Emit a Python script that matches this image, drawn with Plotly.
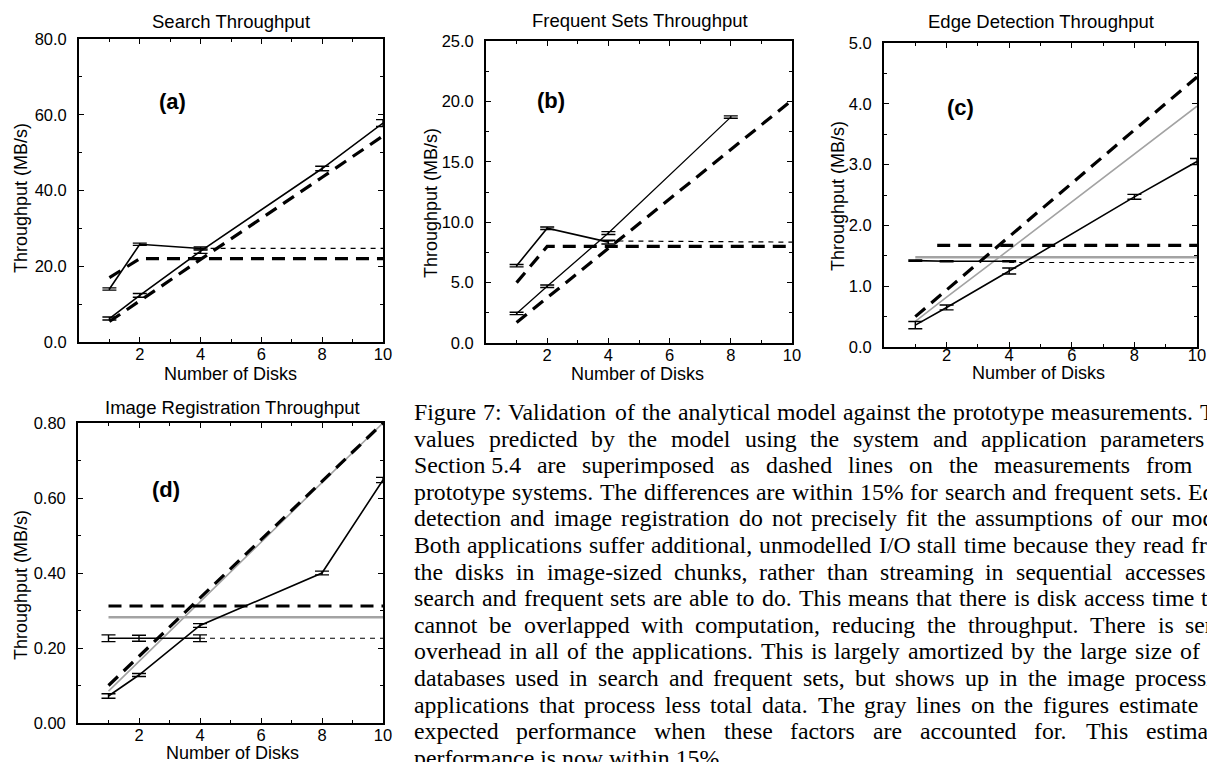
import plotly.graph_objects as go

W, H = 1207, 762

# ---------------- data ----------------
disks = [1, 2, 4, 8, 10]
x_small = [1, 2, 4]
x_b8 = [1, 2, 4, 8]
x_thin = [4, 10]

# (a) Search
a_meas1 = [6.2, 12.3, 24.0, 45.8, 57.8]
a_err1 = [0.4, 0.5, 0.6, 0.6, 0.9]
a_meas2 = [14.0, 25.8, 24.7]
a_err2 = [0.3, 0.3, 0.4]
a_model_lin = [5.4, 10.9, 21.8, 43.5, 54.4]
a_model_flat = [17.0, 22.0, 22.0, 22.0, 22.0]
a_model_thin = [24.7, 24.7]

# (b) Frequent sets
b_meas1 = [2.45, 4.7, 9.1, 18.7]
b_err1 = [0.1, 0.1, 0.12, 0.1]
b_meas2 = [6.4, 9.5, 8.35]
b_err2 = [0.1, 0.1, 0.15]
b_model_lin = [1.7, 3.75, 7.8, 16.0, 20.1]
b_model_flat = [5.0, 8.0, 8.0, 8.0, 8.0]
b_model_thin = [8.45, 8.35]

# (c) Edge detection
c_meas1 = [0.36, 0.65, 1.25, 2.47, 3.05]
c_err1 = [0.06, 0.04, 0.05, 0.04, 0.05]
c_meas2 = [1.42, 1.41, 1.41]
c_err2 = [0.01, 0.01, 0.01]
c_model_lin = [0.5, 0.94, 1.81, 3.57, 4.44]
c_flat_x = [1.7, 10]
c_model_flat = [1.67, 1.67]
c_model_thin = [1.39, 1.39]
c_gray_lin = [0.42, 0.82, 1.6, 3.18, 3.96]
c_gray_flat = [1.475, 1.475, 1.475, 1.475, 1.475]

# (d) Image registration
d_meas1 = [0.072, 0.128, 0.26, 0.40, 0.648]
d_err1 = [0.006, 0.004, 0.005, 0.005, 0.007]
d_meas2 = [0.226, 0.226, 0.226]
d_err2 = [0.009, 0.008, 0.009]
d_model_lin = [0.10, 0.178, 0.333, 0.645, 0.80]
d_model_flat = [0.312, 0.312, 0.312, 0.312, 0.312]
d_model_thin = [0.226, 0.226]
d_gray_lin = [0.085, 0.164, 0.323, 0.641, 0.80]
d_gray_flat = [0.282, 0.282, 0.282, 0.282, 0.282]

titles = ["Search Throughput", "Frequent Sets Throughput",
          "Edge Detection Throughput", "Image Registration Throughput"]
panel_labels = ["(a)", "(b)", "(c)", "(d)"]
x_title = "Number of Disks"
y_title = "Throughput (MB/s)"
x_ticks = [2, 4, 6, 8, 10]

caption_lines = [
    "Figure 7: Validation of the analytical model against the prototype measurements. The",
    "values predicted by the model using the system and application parameters in",
    "Section\u00a05.4 are superimposed as dashed lines on the measurements from the",
    "prototype systems. The differences are within 15% for search and frequent sets. Edge",
    "detection and image registration do not precisely fit the assumptions of our model.",
    "Both applications suffer additional, unmodelled I/O stall time because they read from",
    "the disks in image-sized chunks, rather than streaming in sequential accesses as",
    "search and frequent sets are able to do. This means that there is disk access time that",
    "cannot be overlapped with computation, reducing the throughput. There is serial",
    "overhead in all of the applications. This is largely amortized by the large size of the",
    "databases used in search and frequent sets, but shows up in the image processing",
    "applications that process less total data. The gray lines on the figures estimate the",
    "expected performance when these factors are accounted for. This estimated",
    "performance is now within 15%.",
]

# ---------------- helpers ----------------
def px(x):
    return x / W

def py(y):
    return 1 - y / H

BLACK = "#000000"
GRAY = "#a3a3a3"
SANS = "Liberation Sans, Arial, sans-serif"
SERIF = "Liberation Serif, Times New Roman, serif"

fig = go.Figure()

def add(x, y, ax, width=1.6, dash="solid", color=BLACK, err=None):
    tr = dict(x=x, y=y, mode="lines", xaxis="x" + ax, yaxis="y" + ax,
              line=dict(color=color, width=width, dash=dash),
              showlegend=False, hoverinfo="skip", cliponaxis=False)
    if err is not None:
        tr["error_y"] = dict(type="data", array=err, visible=True,
                             color=BLACK, thickness=1.4, width=7)
    fig.add_trace(go.Scatter(**tr))

THICK = "13px,8px"
THIN = "5px,5px"

# (a)
add(disks, a_model_lin, "", 3.2, THICK)
add(disks, a_model_flat, "", 3.2, THICK)
add(x_thin, a_model_thin, "", 1.2, THIN)
add(disks, a_meas1, "", 1.6, err=a_err1)
add(x_small, a_meas2, "", 1.6, err=a_err2)
# (b)
add(disks, b_model_lin, "2", 3.2, THICK)
add(disks, b_model_flat, "2", 3.2, THICK)
add(x_thin, b_model_thin, "2", 1.2, THIN)
add(x_b8, b_meas1, "2", 1.3, err=b_err1)
add(x_small, b_meas2, "2", 1.6, err=b_err2)
# (c)
add(disks, c_gray_lin, "3", 1.6, color=GRAY)
add(disks, c_gray_flat, "3", 2.4, color=GRAY)
add(disks, c_model_lin, "3", 3.2, THICK)
add(c_flat_x, c_model_flat, "3", 3.2, THICK)
add(x_thin, c_model_thin, "3", 1.2, THIN)
add(disks, c_meas1, "3", 1.6, err=c_err1)
add(x_small, c_meas2, "3", 1.6, err=c_err2)
# (d)
add(disks, d_gray_lin, "4", 1.6, color=GRAY)
add(disks, d_gray_flat, "4", 2.4, color=GRAY)
add(disks, d_model_lin, "4", 3.2, THICK)
add(disks, d_model_flat, "4", 3.2, THICK)
add(x_thin, d_model_thin, "4", 1.2, THIN)
add(disks, d_meas1, "4", 1.6, err=d_err1)
add(x_small, d_meas2, "4", 1.6, err=d_err2)

# panel boxes in pixels: (left, right, top, bottom)
boxes = [(79, 383, 39, 342), (486, 792, 41, 343), (884, 1197, 43, 347), (78, 383, 423, 723)]
yranges = [[0, 80], [0, 25], [0, 5], [0, 0.8]]
ydticks = [20, 5, 1, 0.2]
yfmts = [".1f", ".1f", ".1f", ".2f"]
xstandoff = [-4, -4, -8, -4]

common = dict(showline=True, linecolor=BLACK, linewidth=1.8, mirror="allticks",
              ticks="inside", ticklen=5, tickwidth=1.3, tickcolor=BLACK,
              showgrid=False, zeroline=False, automargin=False,
              tickfont=dict(family=SANS, size=16.5, color=BLACK))

layout = dict(width=W, height=H, autosize=False, paper_bgcolor="white", plot_bgcolor="white",
              margin=dict(l=0, r=0, t=0, b=0, pad=0, autoexpand=False), showlegend=False)

for i, (l, r, t, b) in enumerate(boxes):
    s = "" if i == 0 else str(i + 1)
    layout["xaxis" + s] = dict(common, domain=[px(l), px(r)], range=[0, 10],
                               tickvals=x_ticks, anchor="y" + s, ticklabelstandoff=xstandoff[i],
                               minor=dict(ticks="inside", ticklen=3, dtick=1, tick0=0,
                                          tickcolor=BLACK, showgrid=False))
    layout["yaxis" + s] = dict(common, domain=[py(b), py(t)], range=yranges[i],
                               dtick=ydticks[i], tickformat=yfmts[i], anchor="x" + s,
                               ticklabelstandoff=7,
                               minor=dict(ticks="inside", ticklen=3, dtick=ydticks[i] / 2,
                                          tickcolor=BLACK, showgrid=False))

fig.update_layout(**layout)

ann = []
def text(x, y, s, size, family=SANS, angle=0, xanchor="center", bold=False):
    if bold:
        s = "<b>" + s + "</b>"
    ann.append(dict(x=px(x), y=py(y), xref="paper", yref="paper", text=s,
                    showarrow=False, xanchor=xanchor, yanchor="middle",
                    textangle=angle, font=dict(family=family, size=size, color=BLACK)))

title_pos = [(231, 22), (640, 21), (1041, 22), (232, 407)]
xt_pos = [(230, 374), (637, 374), (1038, 373), (232, 753)]
yt_pos = [(21, 198), (431, 203), (838, 196), (21, 585)]
lab_pos = [(172, 102), (551, 100), (960, 107), (166, 489)]
for i in range(4):
    text(*title_pos[i], titles[i], 18.5)
    text(*xt_pos[i], x_title, 18)
    text(*yt_pos[i], y_title, 18, angle=-90)
    text(*lab_pos[i], panel_labels[i], 22, bold=True)

# caption, justified word by word (Times metrics)
TW = {' ': 250, '!': 333, '%': 833, '(': 333, ')': 333, ',': 250, '-': 333, '.': 250,
      '/': 278, ':': 278, ';': 278, '\u00a0': 250,
      'A': 722, 'B': 667, 'C': 667, 'D': 722, 'E': 611, 'F': 556, 'G': 722, 'H': 722,
      'I': 333, 'J': 389, 'K': 722, 'L': 611, 'M': 889, 'N': 722, 'O': 722, 'P': 556,
      'Q': 722, 'R': 667, 'S': 556, 'T': 611, 'U': 722, 'V': 722, 'W': 944, 'X': 722,
      'Y': 722, 'Z': 611,
      'a': 444, 'b': 500, 'c': 444, 'd': 500, 'e': 444, 'f': 333, 'g': 500, 'h': 500,
      'i': 278, 'j': 278, 'k': 500, 'l': 278, 'm': 778, 'n': 500, 'o': 500, 'p': 500,
      'q': 500, 'r': 333, 's': 389, 't': 278, 'u': 500, 'v': 500, 'w': 722, 'x': 500,
      'y': 500, 'z': 444}

def wwidth(w, fs):
    return sum(TW.get(c, 500) for c in w) / 1000.0 * fs

FS = 23.8
L, R = 413, 1236
Y0, DY = 412, 26.6
for k, line in enumerate(caption_lines):
    y = Y0 + k * DY
    words = line.split(" ")
    if k == len(caption_lines) - 1:
        ann.append(dict(x=px(L), y=py(y), xref="paper", yref="paper", text=line.replace("\u00a0", " "),
                        showarrow=False, xanchor="left", yanchor="middle", borderpad=0,
                        font=dict(family=SERIF, size=FS, color=BLACK)))
        continue
    widths = [wwidth(w, FS) for w in words]
    gap = (R - L - sum(widths)) / (len(words) - 1)
    x = L
    for w, wd in zip(words, widths):
        ann.append(dict(x=px(x), y=py(y), xref="paper", yref="paper", text=w.replace("\u00a0", " "),
                        showarrow=False, xanchor="left", yanchor="middle", borderpad=0,
                        font=dict(family=SERIF, size=FS, color=BLACK)))
        x += wd + gap

fig.update_layout(annotations=ann)
fig.write_html("out.html", config={"displayModeBar": False},
               post_script="document.body.style.margin='0px';"
                           "document.body.style.padding='0px';"
                           "document.body.style.overflow='hidden';")
